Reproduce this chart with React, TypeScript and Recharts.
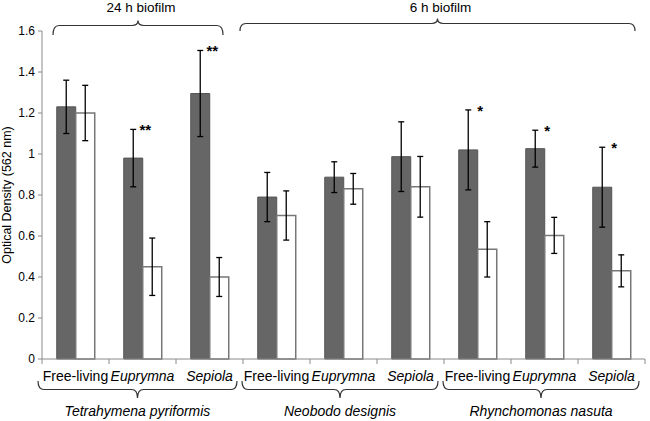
import React from 'react';
import { BarChart, Bar, XAxis, YAxis, ErrorBar, LabelList } from 'recharts';

// sample labels (x axis), 3 per host organism
const categories = [
  'Free-living', 'Euprymna', 'Sepiola',
  'Free-living', 'Euprymna', 'Sepiola',
  'Free-living', 'Euprymna', 'Sepiola',
];
const hosts = ['Tetrahymena pyriformis', 'Neobodo designis', 'Rhynchomonas nasuta'];
const biofilms = [
  { label: '24 h biofilm', from: 0, to: 3 },
  { label: '6 h biofilm', from: 3, to: 9 },
];

// optical density values
const darkMeans = [1.23, 0.98, 1.295, 0.79, 0.887, 0.987, 1.02, 1.026, 0.838];
const darkErr = [0.13, 0.14, 0.21, 0.12, 0.075, 0.17, 0.195, 0.09, 0.195];
const whiteMeans = [1.2, 0.45, 0.4, 0.7, 0.83, 0.84, 0.535, 0.603, 0.43];
const whiteErr = [0.135, 0.14, 0.095, 0.12, 0.075, 0.148, 0.135, 0.088, 0.078];
const stars = ['', '**', '**', '', '', '', '*', '*', '*'];
const yTicks = [0, 0.2, 0.4, 0.6, 0.8, 1, 1.2, 1.4, 1.6];

const data = categories.map((c, i) => ({
  id: `g${i}`,
  dark: darkMeans[i],
  darkErr: darkErr[i],
  white: whiteMeans[i],
  whiteErr: whiteErr[i],
  star: stars[i],
}));

const W = 650;
const H = 421;
const margin = { top: 31, right: 5, left: 12, bottom: 42 };
const Y_AXIS_W = 30;
const X_AXIS_H = 20;
const plotLeft = margin.left + Y_AXIS_W;
const plotRight = W - margin.right;
const plotBottom = H - margin.bottom - X_AXIS_H;
const band = (plotRight - plotLeft) / categories.length;
const FONT = '"Liberation Sans", Arial, sans-serif';
const AXIS = '#8a8a8a';
const BRACE = '#333';

// curly brace between x0 and x1; ends at yEnd, straight part at yMid, centre tip at yTip
const brace = (x0: number, x1: number, yEnd: number, yMid: number, yTip: number) => {
  const cx = (x0 + x1) / 2;
  const r = 6;
  return `M${x0},${yEnd} Q${x0},${yMid} ${x0 + r},${yMid} L${cx - r},${yMid} Q${cx},${yMid} ${cx},${yTip} Q${cx},${yMid} ${cx + r},${yMid} L${x1 - r},${yMid} Q${x1},${yMid} ${x1},${yEnd}`;
};

const CatTick = (props: any) => {
  const { x, index } = props;
  const label = categories[index];
  return (
    <g>
      <line x1={x - band / 2} y1={plotBottom} x2={x - band / 2} y2={plotBottom + 5} stroke={AXIS} />
      {index === categories.length - 1 && (
        <line x1={x + band / 2} y1={plotBottom} x2={x + band / 2} y2={plotBottom + 5} stroke={AXIS} />
      )}
      <text
        x={x}
        y={plotBottom + 22}
        textAnchor="middle"
        fontSize={14}
        fontFamily={FONT}
        fontStyle={label === 'Free-living' ? 'normal' : 'italic'}
        fill="#000"
      >
        {label}
      </text>
    </g>
  );
};

const StarLabel = (props: any) => {
  const { x, y, width, height, value, index } = props;
  if (!stars[index]) return null;
  const perUnit = height / value;
  const errTop = y + height - (value + darkErr[index]) * perUnit;
  return (
    <text
      x={x + width + 2.5}
      y={errTop + 6}
      textAnchor="middle"
      fontSize={15}
      fontWeight="bold"
      fontFamily={FONT}
      fill="#000"
    >
      {stars[index]}
    </text>
  );
};

const Overlay = () => (
  <svg width={W} height={H} style={{ position: 'absolute', left: 0, top: 0, pointerEvents: 'none' }}>
    <text
      transform={`translate(11, ${(margin.top + plotBottom) / 2}) rotate(-90)`}
      textAnchor="middle"
      fontSize={12.5}
      fontFamily={FONT}
      fill="#000"
    >
      Optical Density (562 nm)
    </text>
    {hosts.map((h, i) => {
      const x0 = plotLeft + i * 3 * band - (i === 0 ? 4 : 1);
      const x1 = plotLeft + (i + 1) * 3 * band - 6;
      return (
        <g key={h}>
          <path
            d={brace(x0, x1, plotBottom + 22, plotBottom + 30.5, plotBottom + 39)}
            fill="none"
            stroke={BRACE}
            strokeWidth={1.2}
          />
          <text x={(x0 + x1) / 2} y={plotBottom + 57} textAnchor="middle" fontSize={14} fontStyle="italic" fontFamily={FONT} fill="#000">
            {h}
          </text>
        </g>
      );
    })}
    {biofilms.map((b) => {
      const x0 = plotLeft + b.from * band + (b.from === 0 ? 11 : -3);
      const x1 = plotLeft + b.to * band - (b.from === 0 ? 20 : 10);
      const yEnd = b.from === 0 ? 35 : 31;
      const yMid = b.from === 0 ? 25.5 : 23.5;
      return (
        <g key={b.label}>
          <path d={brace(x0, x1, yEnd, yMid, yMid - 5)} fill="none" stroke={BRACE} strokeWidth={1.2} />
          <text x={(x0 + x1) / 2 + 3} y={12} textAnchor="middle" fontSize={13.5} fontFamily={FONT} fill="#000">
            {b.label}
          </text>
        </g>
      );
    })}
  </svg>
);

export default function App() {
  return (
    <div style={{ position: 'absolute', left: 0, top: 0, width: W, height: H, background: '#fff' }}>
      <BarChart width={W} height={H} data={data} margin={margin} barGap={0} barCategoryGap="22%">
        <XAxis
          dataKey="id"
          height={X_AXIS_H}
          stroke={AXIS}
          tickLine={false}
          interval={0}
          tick={<CatTick />}
        />
        <YAxis
          width={Y_AXIS_W}
          domain={[0, 1.6]}
          ticks={yTicks}
          stroke={AXIS}
          tickSize={4}
          tickMargin={3}
          tick={{ fontSize: 12, fontFamily: FONT, fill: '#000' }}
        />
        <Bar dataKey="dark" fill="#666666" stroke="#555555" isAnimationActive={false}>
          <ErrorBar dataKey="darkErr" width={3} stroke="#000" strokeWidth={1.3} />
          <LabelList dataKey="dark" content={<StarLabel />} />
        </Bar>
        <Bar dataKey="white" fill="#ffffff" stroke="#777777" strokeWidth={1.5} isAnimationActive={false}>
          <ErrorBar dataKey="whiteErr" width={3} stroke="#000" strokeWidth={1.3} />
        </Bar>
      </BarChart>
      <Overlay />
    </div>
  );
}
